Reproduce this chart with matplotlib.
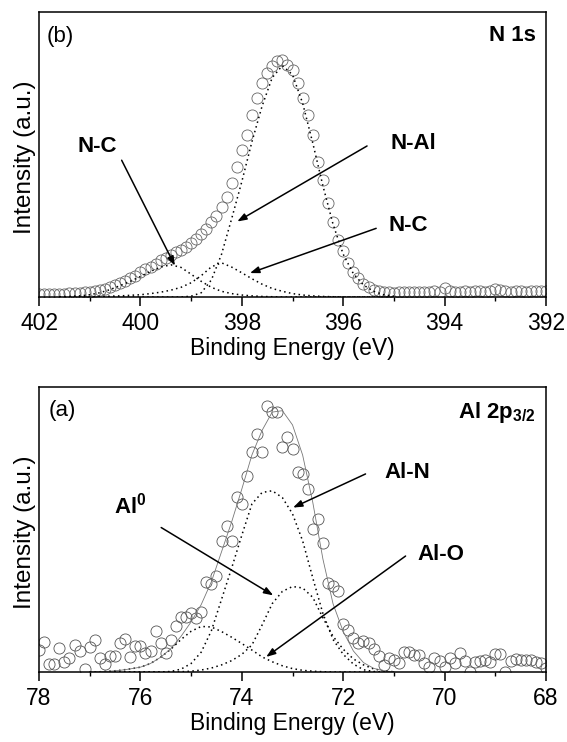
import numpy as np
import matplotlib
matplotlib.use('Agg')
import matplotlib.pyplot as plt

plt.rcParams['font.family'] = ['Liberation Sans', 'DejaVu Sans']
plt.rcParams['mathtext.fontset'] = 'custom'
plt.rcParams['mathtext.rm'] = 'Liberation Sans'
plt.rcParams['mathtext.bf'] = 'Liberation Sans:bold'

# ---- N 1s spectrum (0.1 eV steps, 402 -> 392 eV)
n1s_counts = [
    0.010, 0.010, 0.011, 0.011, 0.012, 0.012, 0.013, 0.014, 0.015, 0.016,
    0.018, 0.020, 0.024, 0.029, 0.035, 0.042, 0.049, 0.057, 0.066, 0.075,
    0.088, 0.098, 0.107, 0.117, 0.129, 0.138, 0.146, 0.157, 0.166, 0.176,
    0.190, 0.204, 0.220, 0.240, 0.262, 0.285, 0.315, 0.350, 0.400, 0.455,
    0.515, 0.570, 0.640, 0.700, 0.750, 0.785, 0.812, 0.828, 0.830, 0.815,
    0.795, 0.750, 0.700, 0.640, 0.570, 0.475, 0.410, 0.330, 0.262, 0.200,
    0.160, 0.118, 0.088, 0.066, 0.047, 0.035, 0.026, 0.021, 0.018, 0.016,
    0.015, 0.016, 0.017, 0.016, 0.018, 0.019, 0.017, 0.018, 0.020, 0.019,
    0.030, 0.020, 0.018, 0.019, 0.021, 0.018, 0.020, 0.022, 0.019, 0.021,
    0.028, 0.026, 0.020, 0.019, 0.022, 0.020, 0.019, 0.021, 0.020, 0.022,
    0.021,
]
n1s_energy = np.linspace(402, 392, len(n1s_counts))

# fitted components, 401.6 -> 395.0 eV in 0.2 eV steps
n1s_comp_energy = np.linspace(401.6, 395.0, 34)
n1s_nc_high = [
    0.001, 0.002, 0.004, 0.008, 0.015, 0.026, 0.040, 0.055, 0.072, 0.090,
    0.105, 0.113, 0.104, 0.080, 0.055, 0.034, 0.020, 0.012, 0.007, 0.004,
    0.002, 0.001, 0, 0, 0, 0, 0, 0, 0, 0, 0, 0, 0, 0,
]
n1s_nc_low = [
    0, 0, 0.001, 0.001, 0.002, 0.003, 0.004, 0.006, 0.008, 0.012,
    0.017, 0.024, 0.034, 0.050, 0.075, 0.106, 0.120, 0.105, 0.085, 0.064,
    0.045, 0.030, 0.020, 0.012, 0.007, 0.004, 0.002, 0.001, 0, 0, 0, 0, 0, 0,
]
n1s_nal = [
    0, 0, 0, 0, 0, 0, 0, 0, 0, 0, 0, 0, 0,
    0.003, 0.015, 0.060, 0.150, 0.275, 0.405, 0.545, 0.670, 0.770, 0.812,
    0.780, 0.680, 0.540, 0.390, 0.255, 0.150, 0.082, 0.042, 0.020, 0.008, 0.003,
]

# ---- Al 2p3/2 spectrum (0.1 eV steps, 78 -> 68 eV)
al2p_counts = [
    0.078, 0.106, 0.028, 0.028, 0.083, 0.036, 0.048, 0.095, 0.075, 0.009,
    0.087, 0.112, 0.048, 0.028, 0.057, 0.057, 0.103, 0.115, 0.052, 0.091,
    0.091, 0.068, 0.075, 0.145, 0.101, 0.066, 0.112, 0.161, 0.192, 0.192,
    0.208, 0.188, 0.212, 0.317, 0.309, 0.337, 0.458, 0.513, 0.458, 0.613,
    0.589, 0.689, 0.773, 0.836, 0.771, 0.933, 0.912, 0.912, 0.789, 0.824,
    0.781, 0.701, 0.695, 0.642, 0.501, 0.536, 0.454, 0.313, 0.302, 0.284,
    0.167, 0.149, 0.120, 0.102, 0.108, 0.102, 0.081, 0.055, 0.026, 0.049,
    0.043, 0.032, 0.069, 0.069, 0.061, 0.061, 0.030, 0.018, 0.049, 0.038,
    0.018, 0.049, 0.032, 0.067, 0.038, 0.000, 0.034, 0.038, 0.043, 0.034,
    0.065, 0.065, 0.000, 0.038, 0.046, 0.041, 0.041, 0.041, 0.034, 0.030,
    0.014,
]
al2p_energy = np.linspace(78, 68, len(al2p_counts))

# fitted components, 77.0 -> 71.0 eV in 0.2 eV steps
al2p_comp_energy = np.linspace(77.0, 71.0, 31)
al2p_al0 = [
    0.000, 0.001, 0.003, 0.006, 0.011, 0.017, 0.030, 0.052, 0.080, 0.114,
    0.143, 0.160, 0.158, 0.142, 0.122, 0.100, 0.077, 0.053, 0.036, 0.022,
    0.012, 0.006, 0.003, 0.001, 0, 0, 0, 0, 0, 0, 0,
]
al2p_aln = [
    0, 0, 0, 0, 0, 0, 0, 0,
    0.002, 0.010, 0.030, 0.070, 0.145, 0.255, 0.365, 0.480, 0.590, 0.630,
    0.636, 0.612, 0.555, 0.460, 0.330, 0.205, 0.114, 0.062, 0.028, 0.008,
    0.002, 0.000, 0.000,
]
al2p_alo = [
    0, 0, 0, 0, 0, 0, 0, 0, 0,
    0.001, 0.003, 0.007, 0.014, 0.025, 0.040, 0.062, 0.095, 0.165, 0.240,
    0.283, 0.300, 0.295, 0.262, 0.190, 0.125, 0.080, 0.046, 0.025, 0.011,
    0.004, 0.001,
]

DOT = (0, (1, 2.2))
FS = 16.5


def style_axes(ax, xmin, xmax):
    ax.set_xlim(xmin, xmax)
    ax.set_ylim(0, 1)
    ax.set_yticks([])
    ax.set_xticks(np.arange(xmax, xmin + 0.1, 2))
    ax.set_xticks(np.arange(xmax, xmin + 0.1, 1), minor=True)
    ax.tick_params(axis='x', which='major', direction='out', length=6.5,
                   width=1.1, labelsize=FS, pad=4)
    ax.tick_params(axis='x', which='minor', direction='out', length=3, width=1.0)
    for sp in ax.spines.values():
        sp.set_linewidth(1.1)
    ax.set_xlabel('Binding Energy (eV)', fontsize=FS, labelpad=2)
    ax.set_ylabel('Intensity (a.u.)', fontsize=17.5)
    ax.yaxis.set_label_coords(-0.006, 0.49)


def arrow(ax, tail, head):
    ax.annotate('', xy=head, xytext=tail,
                arrowprops=dict(arrowstyle='-|>,head_length=0.55,head_width=0.2',
                                color='k', lw=1.1, shrinkA=0, shrinkB=0))


fig = plt.figure(figsize=(5.67, 7.42), dpi=100)
ax1 = fig.add_axes([0.0688, 0.5997, 0.8942, 0.3841])
ax2 = fig.add_axes([0.0688, 0.0943, 0.8942, 0.3841])

# N 1s
ax1.plot(n1s_energy, n1s_counts, 'o', ms=8, mfc='none', mec='#666666', mew=0.6)
for comp in (n1s_nc_high, n1s_nc_low, n1s_nal):
    ax1.plot(n1s_comp_energy, comp, color='k', lw=1.1, ls=DOT)
style_axes(ax1, 402, 392)
ax1.text(0.015, 0.913, '(b)', transform=ax1.transAxes, fontsize=16, va='center')
ax1.text(0.98, 0.916, 'N 1s', transform=ax1.transAxes, fontsize=16,
         fontweight='bold', ha='right', va='center')
ax1.text(400.86, 0.527, 'N-C', fontsize=16, fontweight='bold', ha='center', va='center')
arrow(ax1, (400.37, 0.48), (399.32, 0.11))
ax1.text(394.62, 0.54, 'N-Al', fontsize=16, fontweight='bold', ha='center', va='center')
arrow(ax1, (395.53, 0.53), (398.09, 0.265))
ax1.text(394.72, 0.25, 'N-C', fontsize=16, fontweight='bold', ha='center', va='center')
arrow(ax1, (395.35, 0.241), (397.84, 0.084))

# Al 2p3/2
ax2.plot(al2p_energy, al2p_counts, 'o', ms=8, mfc='none', mec='#555555', mew=0.6)
for comp in (al2p_al0, al2p_aln, al2p_alo):
    ax2.plot(al2p_comp_energy, comp, color='k', lw=1.1, ls=DOT)
al2p_fit = np.array(al2p_al0) + np.array(al2p_aln) + np.array(al2p_alo)
ax2.plot(al2p_comp_energy, al2p_fit, color='#777777', lw=0.6)
style_axes(ax2, 78, 68)
ax2.text(0.019, 0.918, '(a)', transform=ax2.transAxes, fontsize=16, va='center')
ax2.text(0.98, 0.912, r'Al 2p$_{\mathbf{3/2}}$', transform=ax2.transAxes,
         fontsize=16, fontweight='bold', ha='right', va='center')
ax2.text(70.74, 0.70, 'Al-N', fontsize=16, fontweight='bold', ha='center', va='center')
arrow(ax2, (71.56, 0.695), (72.99, 0.577))
ax2.text(76.2, 0.585, r'Al$^{\mathbf{0}}$', fontsize=16, fontweight='bold',
         ha='center', va='center')
arrow(ax2, (75.59, 0.507), (73.38, 0.269))
ax2.text(70.08, 0.413, 'Al-O', fontsize=16, fontweight='bold', ha='center', va='center')
arrow(ax2, (70.77, 0.407), (73.52, 0.053))

fig.savefig('out.png', dpi=100)
